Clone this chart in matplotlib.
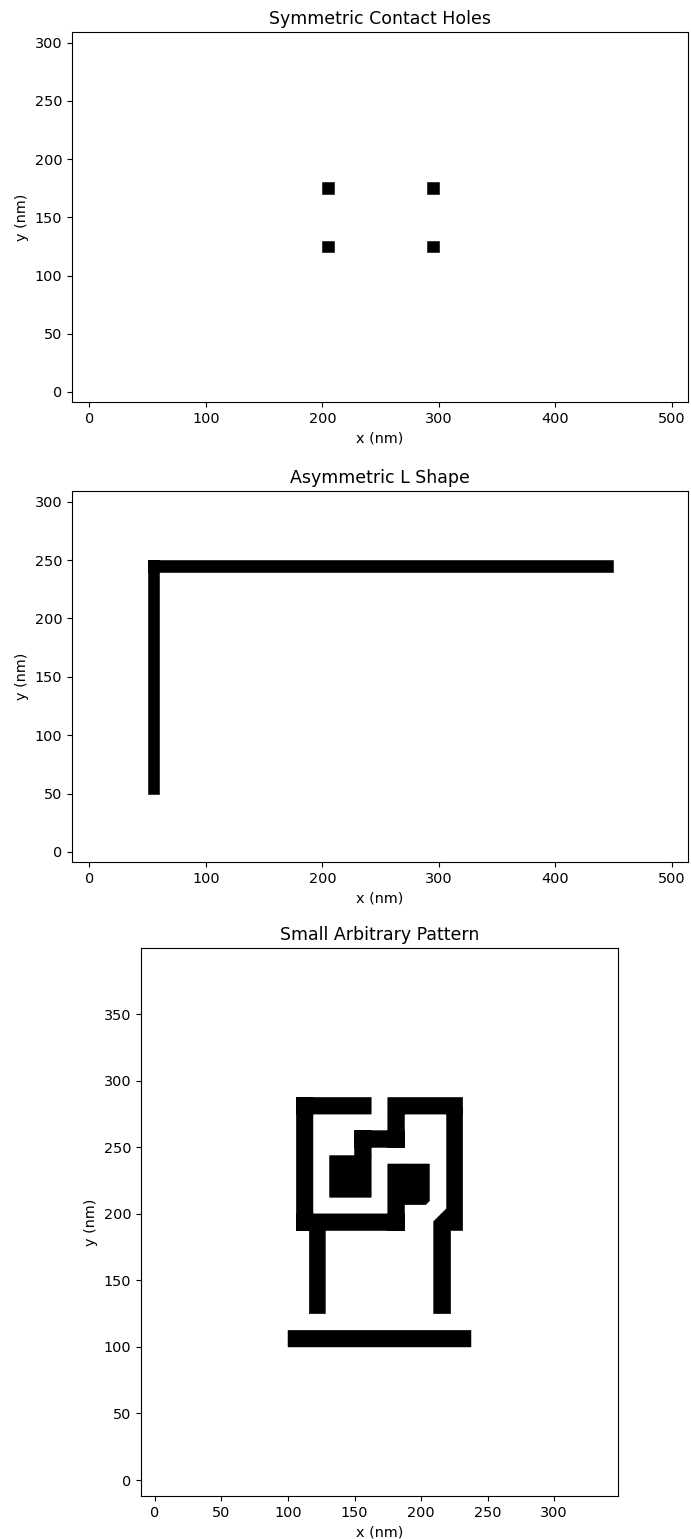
import matplotlib
matplotlib.use("Agg")
import matplotlib.pyplot as plt
from matplotlib.path import Path
from matplotlib.patches import PathPatch

# ---------------- data (nm) ----------------
titles = ["Symmetric Contact Holes", "Asymmetric L Shape", "Small Arbitrary Pattern"]

# Contact holes: rectangles [x0, x1, y0, y1]
holes_rects = [
    [200, 210, 120, 130],
    [290, 300, 120, 130],
    [200, 210, 170, 180],
    [290, 300, 170, 180],
]

# L shape: rectangles [x0, x1, y0, y1]
l_rects = [
    [50, 60, 50, 250],
    [50, 450, 240, 250],
]

# Arbitrary pattern: rectangles [x0, x1, y0, y1]
arb_rects = [
    [100, 237.5, 100, 112.5],        # bottom bar
    [116, 128, 125, 190],            # left leg
    [106.25, 118.75, 187.5, 287.5],  # frame left
    [106.25, 162.5, 275, 287.5],     # top-left bar
    [175, 231.25, 275, 287.5],       # top-right bar
    [106.25, 187.5, 187.5, 200],     # frame bottom
    [175, 187.5, 187.5, 237.5],      # riser to right block
    [175, 187.5, 250, 275],          # step down from top-right bar
    [150, 187.5, 250, 262.5],        # step horizontal
    [150, 162.5, 243.75, 262.5],     # step vertical
    [131.25, 162.5, 212.5, 243.75],  # left block
]
# Arbitrary pattern: polygons (vertex lists)
arb_polys = [
    [(187.5, 206.9), (203.4, 206.9), (206.25, 209.7), (206.25, 237.5), (187.5, 237.5)],
    [(219.2, 280), (231.25, 280), (231.25, 187.5), (222.2, 187.5), (222.2, 125),
     (209.5, 125), (209.5, 194.3), (219.2, 203.9)],
]

xlims = [(-15.0, 514.0), (-15.0, 514.0), (-10.5, 348.0)]
ylims = [(-8.6, 309.2), (-8.6, 309.2), (-12.0, 399.8)]
xticks = [[0, 100, 200, 300, 400, 500], [0, 100, 200, 300, 400, 500],
          [0, 50, 100, 150, 200, 250, 300]]
yticks = [[0, 50, 100, 150, 200, 250, 300], [0, 50, 100, 150, 200, 250, 300],
          [0, 50, 100, 150, 200, 250, 300, 350]]

# ---------------- figure ----------------
W, H = 691, 1539
fig = plt.figure(figsize=(W / 100, H / 100), dpi=100)

boxes_px = [(72, 32, 688, 402), (72, 491, 688, 862), (141, 948, 618, 1496)]


def rect_poly(r):
    x0, x1, y0, y1 = r
    return [(x0, y0), (x1, y0), (x1, y1), (x0, y1)]


def ccw(verts):
    area = 0.0
    n = len(verts)
    for k in range(n):
        x1, y1 = verts[k]
        x2, y2 = verts[(k + 1) % n]
        area += x1 * y2 - x2 * y1
    return verts if area > 0 else verts[::-1]


def union_path(polys):
    vs, cs = [], []
    for p in polys:
        p = ccw(list(p))
        vs.extend(p + [p[0]])
        cs.extend([Path.MOVETO] + [Path.LINETO] * (len(p) - 1) + [Path.CLOSEPOLY])
    return Path(vs, cs)


shape_sets = [
    [rect_poly(r) for r in holes_rects],
    [rect_poly(r) for r in l_rects],
    [rect_poly(r) for r in arb_rects] + arb_polys,
]

for i, (l, t, r, b) in enumerate(boxes_px):
    ax = fig.add_axes([l / W, 1 - b / H, (r - l) / W, (b - t) / H])
    ax.add_patch(PathPatch(union_path(shape_sets[i]), facecolor="black",
                           edgecolor="black", linewidth=0.4))
    ax.set_xlim(*xlims[i])
    ax.set_ylim(*ylims[i])
    ax.set_xticks(xticks[i])
    ax.set_yticks(yticks[i])
    ax.set_title(titles[i], fontsize=12.5)
    ax.set_xlabel("x (nm)", fontsize=10.4)
    ax.set_ylabel("y (nm)", fontsize=10.4)
    ax.tick_params(labelsize=10.4)

fig.savefig("out.png", dpi=100)
